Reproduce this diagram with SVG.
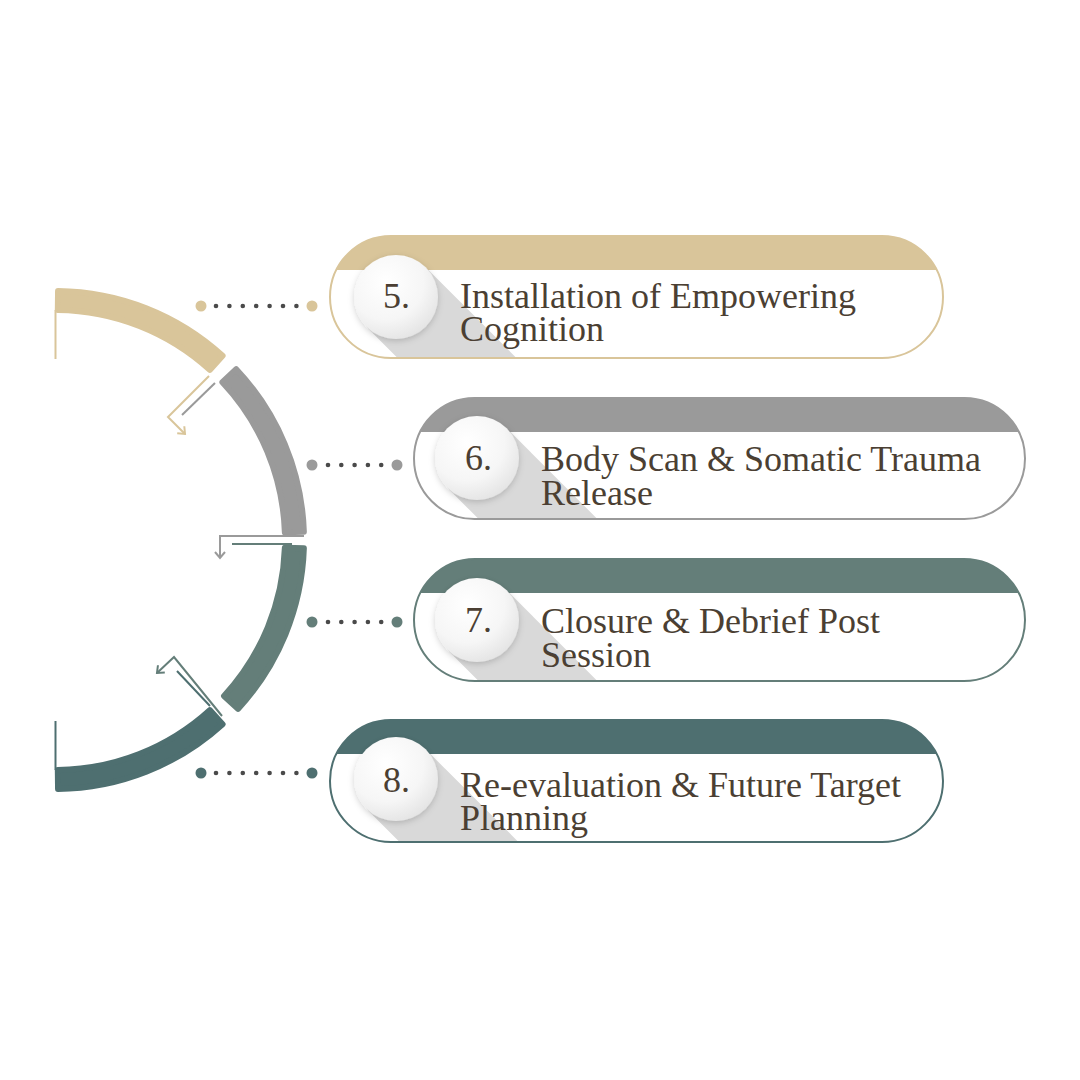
<svg xmlns="http://www.w3.org/2000/svg" width="1080" height="1080" viewBox="0 0 1080 1080">
  <style>
    .txt { font-family: "Liberation Serif", "DejaVu Serif", serif; font-size: 36px; fill: #4b3f33; }
    .seg { stroke-width: 6; stroke-linejoin: round; }
    .thin { fill: none; stroke-width: 2; }
    .sdot { fill: #4a4a4a; }
    .shadow { fill: #d9d9d9; }
    .disc { fill: url(#discGrad); filter: url(#discShadow); }
    .pillbg { fill: #ffffff; }
    .outline { fill: none; stroke-width: 2; }
  </style>
  <defs>
    <radialGradient id="discGrad" cx="0.38" cy="0.32" r="0.75">
      <stop offset="0" stop-color="#ffffff"/>
      <stop offset="0.6" stop-color="#f6f6f6"/>
      <stop offset="1" stop-color="#e2e2e2"/>
    </radialGradient>
    <filter id="discShadow" x="-30%" y="-30%" width="160%" height="160%">
      <feDropShadow dx="0" dy="2" stdDeviation="3" flood-color="#000000" flood-opacity="0.18"/>
    </filter>
    <marker id="mBeige" markerUnits="userSpaceOnUse" markerWidth="20" markerHeight="20" refX="0" refY="0" viewBox="-10 -10 20 20" orient="auto" overflow="visible">
      <path d="M -6 -5 L 0 0 L -6 5" fill="none" stroke="#d9c59a" stroke-width="2"/>
    </marker>
    <marker id="mGray" markerUnits="userSpaceOnUse" markerWidth="20" markerHeight="20" refX="0" refY="0" viewBox="-10 -10 20 20" orient="auto" overflow="visible">
      <path d="M -6 -5 L 0 0 L -6 5" fill="none" stroke="#9a9a9a" stroke-width="2"/>
    </marker>
    <marker id="mTeal" markerUnits="userSpaceOnUse" markerWidth="20" markerHeight="20" refX="0" refY="0" viewBox="-10 -10 20 20" orient="auto" overflow="visible">
      <path d="M -6 -5 L 0 0 L -6 5" fill="none" stroke="#647e79" stroke-width="2"/>
    </marker>
    <clipPath id="clip5"><rect x="330" y="236" width="613" height="122" rx="61"/></clipPath>
    <clipPath id="clip6"><rect x="414" y="398" width="611" height="121" rx="60.5"/></clipPath>
    <clipPath id="clip7"><rect x="414" y="559" width="611" height="122" rx="61"/></clipPath>
    <clipPath id="clip8"><rect x="330" y="720" width="613" height="122" rx="61"/></clipPath>
  </defs>

  <rect width="1080" height="1080" fill="#ffffff"/>

  <!-- Arc segments -->
  <g id="arc">
    <path id="arc5" class="seg" fill="#d9c59a" stroke="#d9c59a" d="M 58.04 291.02 A 249 249 0 0 1 222.58 355.84 L 209.79 369.89 A 230 230 0 0 0 57.81 310.02 Z"/>
    <path id="arc6" class="seg" fill="#9a9a9a" stroke="#9a9a9a" d="M 236.22 369.24 A 249 249 0 0 1 303.86 531.74 L 284.87 532.37 A 230 230 0 0 0 222.39 382.27 Z"/>
    <path id="arc7" class="seg" fill="#647e79" stroke="#647e79" d="M 303.86 548.26 A 249 249 0 0 1 237.99 708.87 L 224.03 695.99 A 230 230 0 0 0 284.87 547.63 Z"/>
    <path id="arc8" class="seg" fill="#4e6f70" stroke="#4e6f70" d="M 222.58 724.16 A 249 249 0 0 1 58.04 788.98 L 57.81 769.98 A 230 230 0 0 0 209.79 710.11 Z"/>
  </g>

  <!-- Connectors -->
  <g id="connectors">
    <line class="thin" stroke="#d9c59a" x1="55.5" y1="310" x2="55.5" y2="359"/>
    <line class="thin" stroke="#4e6f70" x1="55.5" y1="721" x2="55.5" y2="770"/>
    <polyline class="thin" stroke="#d9c59a" points="209,376 168,417 185,434" marker-end="url(#mBeige)"/>
    <line class="thin" stroke="#9a9a9a" x1="215" y1="383" x2="182" y2="415"/>
    <polyline class="thin" stroke="#9a9a9a" points="304,536 220,536 220,558" marker-end="url(#mGray)"/>
    <line class="thin" stroke="#647e79" x1="232" y1="544" x2="292" y2="544"/>
    <polyline class="thin" stroke="#647e79" points="222,716 174,657 157,673" marker-end="url(#mTeal)"/>
    <line class="thin" stroke="#4e6f70" x1="210" y1="706" x2="177" y2="671"/>

    <!-- dotted leaders -->
    <g id="dots5">
      <circle cx="201" cy="306" r="5.5" fill="#d9c59a"/>
      <circle class="sdot" cx="216" cy="306" r="2.3"/>
      <circle class="sdot" cx="229.4" cy="306" r="2.3"/>
      <circle class="sdot" cx="242.8" cy="306" r="2.3"/>
      <circle class="sdot" cx="256.2" cy="306" r="2.3"/>
      <circle class="sdot" cx="269.6" cy="306" r="2.3"/>
      <circle class="sdot" cx="283" cy="306" r="2.3"/>
      <circle class="sdot" cx="296.4" cy="306" r="2.3"/>
      <circle cx="312" cy="306" r="5.5" fill="#d9c59a"/>
    </g>
    <g id="dots6">
      <circle cx="312" cy="465" r="5.5" fill="#9a9a9a"/>
      <circle class="sdot" cx="328" cy="465" r="2.3"/>
      <circle class="sdot" cx="341.3" cy="465" r="2.3"/>
      <circle class="sdot" cx="354.6" cy="465" r="2.3"/>
      <circle class="sdot" cx="367.9" cy="465" r="2.3"/>
      <circle class="sdot" cx="381.2" cy="465" r="2.3"/>
      <circle cx="397" cy="465" r="5.5" fill="#9a9a9a"/>
    </g>
    <g id="dots7">
      <circle cx="312" cy="622" r="5.5" fill="#647e79"/>
      <circle class="sdot" cx="328" cy="622" r="2.3"/>
      <circle class="sdot" cx="341.3" cy="622" r="2.3"/>
      <circle class="sdot" cx="354.6" cy="622" r="2.3"/>
      <circle class="sdot" cx="367.9" cy="622" r="2.3"/>
      <circle class="sdot" cx="381.2" cy="622" r="2.3"/>
      <circle cx="397" cy="622" r="5.5" fill="#647e79"/>
    </g>
    <g id="dots8">
      <circle cx="201" cy="773" r="5.5" fill="#4e6f70"/>
      <circle class="sdot" cx="216" cy="773" r="2.3"/>
      <circle class="sdot" cx="229.4" cy="773" r="2.3"/>
      <circle class="sdot" cx="242.8" cy="773" r="2.3"/>
      <circle class="sdot" cx="256.2" cy="773" r="2.3"/>
      <circle class="sdot" cx="269.6" cy="773" r="2.3"/>
      <circle class="sdot" cx="283" cy="773" r="2.3"/>
      <circle class="sdot" cx="296.4" cy="773" r="2.3"/>
      <circle cx="312" cy="773" r="5.5" fill="#4e6f70"/>
    </g>
  </g>

  <!-- Node 5 -->
  <g id="node5">
    <rect class="pillbg" x="330" y="236" width="613" height="122" rx="61"/>
    <g clip-path="url(#clip5)">
      <polygon class="shadow" points="425.7,267.3 545.7,387.3 486.3,446.7 366.3,326.7"/>
      <rect x="330" y="236" width="613" height="34" fill="#d9c59a"/>
    </g>
    <rect class="outline" stroke="#d9c59a" x="330" y="236" width="613" height="122" rx="61"/>
    <circle class="disc" cx="396" cy="297" r="42"/>
    <text class="txt" x="383" y="308">5.</text>
    <text class="txt"><tspan x="460" y="308">Installation of Empowering</tspan><tspan x="460" y="341">Cognition</tspan></text>
  </g>

  <!-- Node 6 -->
  <g id="node6">
    <rect class="pillbg" x="414" y="398" width="611" height="121" rx="60.5"/>
    <g clip-path="url(#clip6)">
      <polygon class="shadow" points="506.7,428.3 626.7,548.3 567.3,607.7 447.3,487.7"/>
      <rect x="414" y="398" width="611" height="34" fill="#9a9a9a"/>
    </g>
    <rect class="outline" stroke="#9a9a9a" x="414" y="398" width="611" height="121" rx="60.5"/>
    <circle class="disc" cx="477" cy="458" r="42"/>
    <text class="txt" x="465" y="470">6.</text>
    <text class="txt"><tspan x="541" y="471">Body Scan &amp; Somatic Trauma</tspan><tspan x="541" y="505">Release</tspan></text>
  </g>

  <!-- Node 7 -->
  <g id="node7">
    <rect class="pillbg" x="414" y="559" width="611" height="122" rx="61"/>
    <g clip-path="url(#clip7)">
      <polygon class="shadow" points="506.7,590.3 626.7,710.3 567.3,769.7 447.3,649.7"/>
      <rect x="414" y="559" width="611" height="34" fill="#647e79"/>
    </g>
    <rect class="outline" stroke="#647e79" x="414" y="559" width="611" height="122" rx="61"/>
    <circle class="disc" cx="477" cy="620" r="42"/>
    <text class="txt" x="465" y="632">7.</text>
    <text class="txt"><tspan x="541" y="633">Closure &amp; Debrief Post</tspan><tspan x="541" y="667">Session</tspan></text>
  </g>

  <!-- Node 8 -->
  <g id="node8">
    <rect class="pillbg" x="330" y="720" width="613" height="122" rx="61"/>
    <g clip-path="url(#clip8)">
      <polygon class="shadow" points="425.7,749.3 545.7,869.3 486.3,928.7 366.3,808.7"/>
      <rect x="330" y="720" width="613" height="34" fill="#4e6f70"/>
    </g>
    <rect class="outline" stroke="#4e6f70" x="330" y="720" width="613" height="122" rx="61"/>
    <circle class="disc" cx="396" cy="779" r="42"/>
    <text class="txt" x="383" y="792">8.</text>
    <text class="txt"><tspan x="460" y="797">Re-evaluation &amp; Future Target</tspan><tspan x="460" y="830">Planning</tspan></text>
  </g>
</svg>
